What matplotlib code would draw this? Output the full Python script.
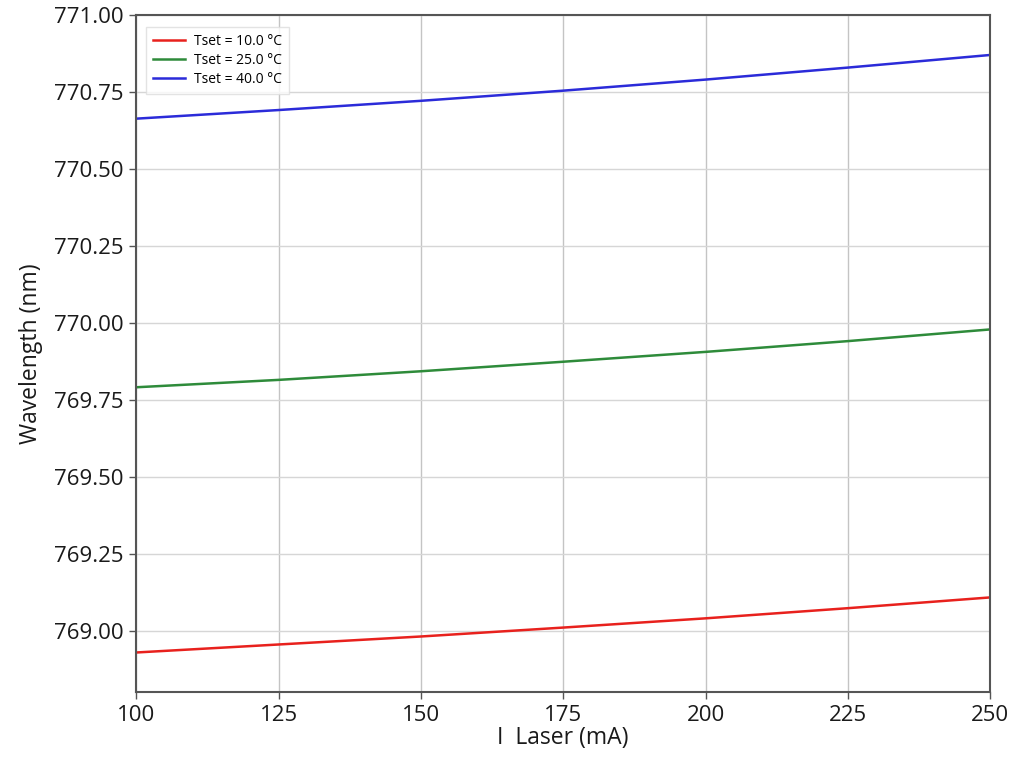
import matplotlib
matplotlib.use("Agg")
import matplotlib.pyplot as plt

plt.rcParams['font.family'] = ['Open Sans', 'DejaVu Sans']

# laser current (mA)
current = [100, 125, 150, 175, 200, 225, 250]

# wavelength (nm) per set temperature
wl_10 = [768.929, 768.955, 768.981, 769.010, 769.040, 769.073, 769.108]
wl_25 = [769.791, 769.815, 769.843, 769.874, 769.906, 769.941, 769.979]
wl_40 = [770.664, 770.692, 770.722, 770.755, 770.791, 770.830, 770.871]

series = [
    ("Tset = 10.0 °C", wl_10, "#e8211d"),
    ("Tset = 25.0 °C", wl_25, "#2e8b3a"),
    ("Tset = 40.0 °C", wl_40, "#2b2bd9"),
]

y_ticks = [769.00, 769.25, 769.50, 769.75, 770.00, 770.25, 770.50, 770.75, 771.00]
x_ticks = [100, 125, 150, 175, 200, 225, 250]

fig = plt.figure(figsize=(10.24, 7.64), dpi=100)
ax = fig.add_axes([0.133, 0.094, 0.834, 0.886])

for label, wl, color in series:
    ax.plot(current, wl, color=color, lw=1.8, label=label)

ax.set_xlim(100, 250)
ax.set_ylim(768.80, 771.00)
ax.set_xticks(x_ticks)
ax.set_yticks(y_ticks)
ax.set_yticklabels([f"{v:.2f}" for v in y_ticks])

ax.xaxis.grid(True, color='#c4c4c4', lw=1.0)
ax.yaxis.grid(True, color='#d6d6d6', lw=1.0)
ax.set_axisbelow(True)

for sp in ax.spines.values():
    sp.set_color('#555555')
    sp.set_linewidth(1.5)

ax.tick_params(axis='both', labelsize=16, colors='#1a1a1a', length=5,
               width=1.0, color='#555555', pad=4)

ax.set_xlabel("I  Laser (mA)", fontsize=16.5, color='#1a1a1a', labelpad=0)
ax.set_ylabel("Wavelength (nm)", fontsize=16.5, color='#1a1a1a', labelpad=8)

ax.legend(loc='upper left', fontsize=10, frameon=True, fancybox=False,
          edgecolor='#dddddd', handlelength=2.3, borderpad=0.5,
          labelspacing=0.3, handletextpad=0.7, bbox_to_anchor=(0.003, 0.993))

fig.savefig("out.png", dpi=100)
